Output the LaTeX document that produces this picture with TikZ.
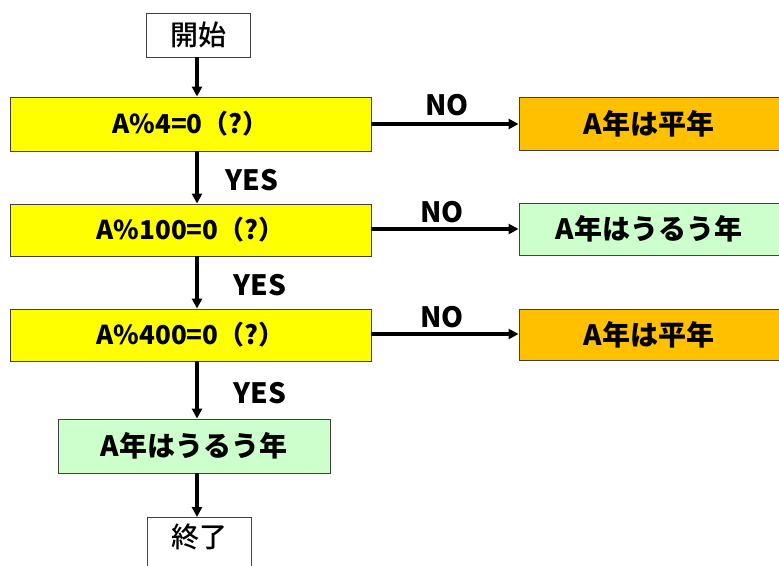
\documentclass[tikz,border=0pt]{standalone}
\usepackage{fontspec}
\setmainfont{Noto Sans CJK JP}
\newfontfamily\medfont{Noto Sans CJK JP Medium}
\usetikzlibrary{arrows.meta}
\definecolor{yel}{HTML}{FFFF00}
\definecolor{org}{HTML}{FFC000}
\definecolor{grn}{HTML}{CCFFCC}
\definecolor{edge}{HTML}{404040}
\begin{document}
\begin{tikzpicture}[x=1pt,y=-1pt,
  box/.style={draw=edge,line width=0.9pt,inner sep=0pt},
  lbl/.style={font=\fontsize{28}{30}\selectfont\bfseries},
  frm/.style={font=\fontsize{26}{30}\selectfont\bfseries},
  plain/.style={font=\fontsize{28}{30}\selectfont\medfont},
  conn/.style={line width=3.2pt,-{Triangle[length=10pt,width=10pt]}}]
\useasboundingbox (0,0) rectangle (779,565);
\clip (0,0) rectangle (779,565);
\node[box,fill=white,minimum width=104pt,minimum height=44pt,plain] (start) at (198,35) {開始};
\node[box,fill=yel,minimum width=361pt,minimum height=54pt,frm] (q1) at (190.5,124) {A\%4=0（?）};
\node[box,fill=org,minimum width=260pt,minimum height=53pt,lbl] (r1) at (649,123.5) {A年は平年};
\node[box,fill=yel,minimum width=361pt,minimum height=52pt,frm] (q2) at (190.5,230) {A\%100=0（?）};
\node[box,fill=grn,minimum width=260pt,minimum height=52pt,lbl] (r2) at (649,229) {A年はうるう年};
\node[box,fill=yel,minimum width=361pt,minimum height=52pt,frm] (q3) at (190.5,335) {A\%400=0（?）};
\node[box,fill=org,minimum width=260pt,minimum height=51pt,lbl] (r3) at (649,334.5) {A年は平年};
\node[box,fill=grn,minimum width=272pt,minimum height=54pt,lbl] (r4) at (194,446) {A年はうるう年};
\node[box,fill=white,minimum width=104pt,minimum height=60pt,plain,anchor=north] (end) at (199,517) {};
\node[plain,anchor=north] (endt) at (199,520) {終了};
\draw[conn] (start.south -| 197,0) -- (q1.north -| 197,0);
\draw[conn] (q1.south -| 197,0) -- (q2.north -| 197,0);
\draw[conn] (q2.south -| 197,0) -- (q3.north -| 197,0);
\draw[conn] (q3.south -| 197,0) -- (r4.north -| 197,0);
\draw[conn] (r4.south -| 197,0) -- (end.north -| 197,0);
\draw[conn] (q1.east |- 0,124) -- (r1.west |- 0,124);
\draw[conn] (q2.east |- 0,229) -- (r2.west |- 0,229);
\draw[conn] (q3.east |- 0,334) -- (r3.west |- 0,334);
\node[lbl,anchor=west] (y1) at (222,180) {YES};
\node[lbl,anchor=west] (y2) at (230,285) {YES};
\node[lbl,anchor=west] (y3) at (230,393) {YES};
\node[lbl] (n1) at (447,105) {NO};
\node[lbl] (n2) at (442,212) {NO};
\node[lbl] (n3) at (442,317) {NO};
\end{tikzpicture}
\end{document}
